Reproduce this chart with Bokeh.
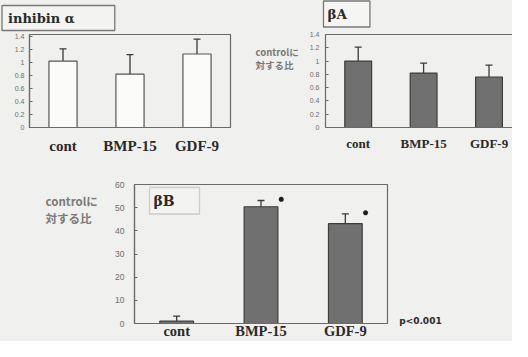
from bokeh.plotting import figure
from bokeh.models import (ColumnDataSource, Whisker, TeeHead, FixedTicker, Range1d,
                          Label, BoxAnnotation, LinearAxis)
from bokeh.layouts import column, row
from bokeh.embed import file_html
from bokeh.resources import INLINE

# ---------------- data ----------------
categories = ["cont", "BMP-15", "GDF-9"]

inhibin_a_mean = [1.02, 0.82, 1.13]
inhibin_a_err = [0.19, 0.30, 0.23]

beta_a_mean = [1.00, 0.82, 0.76]
beta_a_err = [0.21, 0.15, 0.18]

beta_b_mean = [1.0, 50.4, 43.1]
beta_b_err = [2.2, 2.7, 4.2]
beta_b_significant = [False, True, True]

ratio_ticks = [0, 0.2, 0.4, 0.6, 0.8, 1.0, 1.2, 1.4]
ratio_tick_labels = ["0", "0.2", "0.4", "0.6", "0.8", "1", "1.2", "1.4"]
fold_ticks = [0, 10, 20, 30, 40, 50, 60]
fold_tick_labels = ["0", "10", "20", "30", "40", "50", "60"]

panel_titles = ["inhibin\u00a0α", "βA", "βB"]
y_label_text = "controlに\n対する比"
p_value_note = "p<0.001"

# ---------------- style ----------------
BG = "#f0f0ee"
FRAME = "#6a6a6a"
TICK_TXT = "#6e6e6e"
DARK_BAR = "#707070"
DARK_EDGE = "#3c3c3c"
ERR = "#3a3a3a"
XLAB = "#2a2a2a"
SERIF = "Liberation Serif"
TITLE_FONT = "DejaVu Serif"
SANS = "Liberation Sans"
CJK = "Noto Sans CJK JP"

xs = [i + 1 for i in range(len(categories))]


def base_fig(width, height, x_end, y_end, borders):
    left, right, top, bottom = borders
    p = figure(width=width, height=height, output_backend="svg", toolbar_location=None,
               x_range=Range1d(0.5, x_end), y_range=Range1d(0, y_end),
               min_border_left=left, min_border_right=right,
               min_border_top=top, min_border_bottom=bottom,
               background_fill_color=BG, border_fill_color=BG,
               outline_line_color=FRAME, outline_line_width=1.2,
               styles={"background-color": BG})
    p.grid.visible = False
    return p


def style_y(p, ticks, labels, size, standoff):
    ax = p.yaxis[0]
    ax.ticker = FixedTicker(ticks=ticks)
    ax.major_label_overrides = {t: l for t, l in zip(ticks, labels)}
    ax.major_tick_in = 3
    ax.major_tick_out = 0
    ax.minor_tick_in = 0
    ax.minor_tick_out = 0
    ax.minor_tick_line_color = None
    ax.major_tick_line_color = FRAME
    ax.axis_line_color = FRAME
    ax.axis_line_width = 1.2
    ax.major_label_text_font = SANS
    ax.major_label_text_font_size = size
    ax.major_label_text_color = TICK_TXT
    ax.major_label_standoff = standoff


def style_x(p, size, standoff):
    ax = p.xaxis[0]
    ax.ticker = FixedTicker(ticks=xs)
    ax.major_label_overrides = {x: c for x, c in zip(xs, categories)}
    ax.major_tick_in = 0
    ax.major_tick_out = 0
    ax.minor_tick_in = 0
    ax.minor_tick_out = 0
    ax.major_tick_line_color = None
    ax.minor_tick_line_color = None
    ax.axis_line_color = FRAME
    ax.axis_line_width = 1.2
    ax.major_label_text_font = SERIF
    ax.major_label_text_font_style = "bold"
    ax.major_label_text_font_size = size
    ax.major_label_text_color = XLAB
    ax.major_label_standoff = standoff


def bars(p, means, errs, width, fill, edge):
    src = ColumnDataSource(dict(x=xs, top=means,
                                upper=[m + e for m, e in zip(means, errs)],
                                lower=means))
    p.vbar(x="x", top="top", width=width, source=src, fill_color=fill,
           line_color=edge, line_width=1.2)
    p.add_layout(Whisker(base="x", upper="upper", lower="lower", source=src,
                         dimension="height", line_color=ERR, line_width=1.3,
                         upper_head=TeeHead(size=7, line_color=ERR, line_width=1.3),
                         lower_head=None))
    return src


def boxed_title(p, place, x, y, text, size, pad, fill):
    p.add_layout(Label(x=x, y=y, x_units="canvas", y_units="canvas", text=text,
                       text_font=TITLE_FONT, text_font_style="bold", text_font_size=size,
                       text_color="#2a2a2a", text_align="left", text_baseline="top",
                       padding=pad, background_fill_color=fill,
                       border_line_color="#777777", border_line_width=1.3), place)


def side_label(p, x, y, size, line_height):
    p.add_layout(Label(x=x, y=y, x_units="canvas", y_units="canvas", text=y_label_text,
                       text_font=CJK, text_font_style="bold", text_font_size=size,
                       text_line_height=line_height,
                       text_color="#7a7a7a", text_align="left", text_baseline="middle"),
                 "left")


# ---------------- panel A : inhibin alpha ----------------
pa = base_fig(242, 157, 3.5, 1.43, (29, 12, 34, 28))
style_y(pa, ratio_ticks, ratio_tick_labels, "7px", 5)
style_x(pa, "15px", 10)
bars(pa, inhibin_a_mean, inhibin_a_err, 0.42, "#fbfbfa", "#555555")
boxed_title(pa, "above", 1.5, 5, panel_titles[0], "13px",
            dict(left=6, right=40, top=5, bottom=5), "#f3f3f1")

# ---------------- panel B : beta A ----------------
pb = base_fig(270, 157, 0.5 + 186.7 / 65.3, 1.4, (83, 0, 34, 30))
pb.outline_line_color = None
style_y(pb, ratio_ticks, ratio_tick_labels, "7px", 6)
style_x(pb, "13px", 8)
top_line = LinearAxis(ticker=FixedTicker(ticks=[]), axis_line_color=FRAME, axis_line_width=1.2,
                      major_tick_line_color=None, minor_tick_line_color=None,
                      major_tick_in=0, major_tick_out=0, minor_tick_in=0, minor_tick_out=0,
                      major_label_text_font_size="0px", major_label_standoff=0)
pb.add_layout(top_line, "above")
bars(pb, beta_a_mean, beta_a_err, 0.41, DARK_BAR, DARK_EDGE)
boxed_title(pb, "above", 81, 0.5, panel_titles[1], "13.5px",
            dict(left=4, right=23, top=5, bottom=5), "#f5f5f3")
side_label(pb, 13, 58.2, "9.5px", 0.95)

# ---------------- panel C : beta B ----------------
pc = base_fig(512, 184, 3.5, 60, (134, 125, 27, 10))
style_y(pc, fold_ticks, fold_tick_labels, "8.5px", 10)
style_x(pc, "14.5px", -1)
bars(pc, beta_b_mean, beta_b_err, 0.40, DARK_BAR, DARK_EDGE)
sig_x = [x + 0.24 for x, s in zip(xs, beta_b_significant) if s]
sig_y = [m + e + 0.5 for m, e, s in zip(beta_b_mean, beta_b_err, beta_b_significant) if s]
pc.scatter(sig_x, sig_y, marker="asterisk", size=5, line_color="#1e1e1e", line_width=1.6)
pc.add_layout(BoxAnnotation(left=149, right=199, top=30, bottom=56.5,
                            left_units="canvas", right_units="canvas",
                            top_units="canvas", bottom_units="canvas",
                            fill_color="#f3f3f1", fill_alpha=1.0,
                            line_color="#777777", line_width=1.3))
pc.add_layout(Label(x=153, y=43, x_units="canvas", y_units="canvas", text=panel_titles[2],
                    text_font=TITLE_FONT, text_font_style="bold", text_font_size="14px",
                    text_color="#2a2a2a", text_baseline="middle"))
side_label(pc, 45, 52.2, "11.5px", 1.07)
pc.add_layout(Label(x=398.7, y=163.3, x_units="canvas", y_units="canvas", text=p_value_note,
                    text_font="DejaVu Sans", text_font_style="bold", text_font_size="9px",
                    text_color="#2a2a2a", text_baseline="middle"), "right")

top_row = row(pa, pb, styles={"background-color": BG})
layout = column(top_row, pc, styles={"background-color": BG})
open("out.html", "w").write(file_html(layout, INLINE))
